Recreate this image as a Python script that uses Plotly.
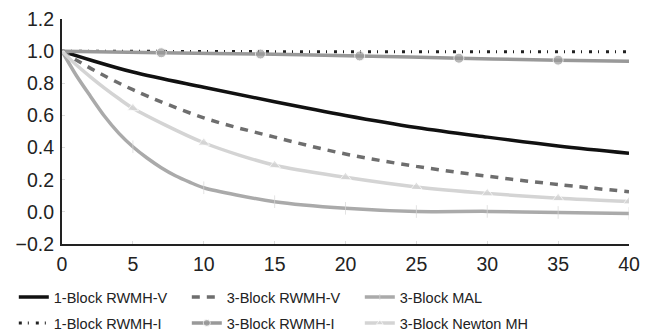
import plotly.graph_objects as go

# ---- data ----
x_v1 = [0, 2, 5, 10, 15, 20, 25, 30, 35, 40]
y_v1 = [1.0, 0.945, 0.87, 0.775, 0.685, 0.60, 0.525, 0.465, 0.41, 0.365]

x_i1 = [0, 10, 20, 30, 40]
y_i1 = [1.0, 0.997, 0.996, 0.996, 0.996]

x_v3 = [0, 1, 2.5, 5, 10, 15, 20, 25, 30, 35, 40]
y_v3 = [1.0, 0.945, 0.87, 0.76, 0.585, 0.465, 0.36, 0.283, 0.222, 0.17, 0.125]

x_i3 = [0, 7, 14, 21, 28, 35, 40]
y_i3 = [1.0, 0.99, 0.982, 0.97, 0.956, 0.944, 0.937]

x_mal = [0, 1, 2, 3, 4, 5, 6, 7, 8, 9, 10, 15, 20, 25, 30, 35, 40]
y_mal = [1.0, 0.85, 0.72, 0.595, 0.49, 0.405, 0.335, 0.275, 0.225, 0.185, 0.15,
         0.063, 0.022, 0.002, 0.003, -0.004, -0.01]

x_nt = [0, 1, 2, 3, 4, 5, 10, 15, 20, 25, 30, 35, 40]
y_nt = [1.0, 0.915, 0.84, 0.77, 0.705, 0.645, 0.43, 0.29, 0.215, 0.155, 0.115, 0.085, 0.065]

names = ["1-Block RWMH-V", "3-Block RWMH-V", "3-Block MAL",
         "1-Block RWMH-I", "3-Block RWMH-I", "3-Block Newton MH"]
x_ticks = [0, 5, 10, 15, 20, 25, 30, 35, 40]
y_ticks = [-0.2, 0.0, 0.2, 0.4, 0.6, 0.8, 1.0, 1.2]

fig = go.Figure()

fig.add_trace(go.Scatter(x=x_v1, y=y_v1, name=names[0], mode="lines", legend="legend",
                         line=dict(color="#111111", width=3.5, shape="spline")))
fig.add_trace(go.Scatter(x=x_v3, y=y_v3, name=names[1], mode="lines", legend="legend",
                         line=dict(color="#6e6e6e", width=3.5, dash="8px,7px", shape="spline")))
mal_sizes = [9 if (x % 5 == 0 and x > 0) else 0 for x in x_mal]
fig.add_trace(go.Scatter(x=x_mal, y=y_mal, name=names[2], mode="lines+markers", legend="legend",
                         line=dict(color="#aaaaaa", width=3.5, shape="spline", smoothing=0.8),
                         marker=dict(symbol="line-ns", size=mal_sizes, color="#d8d8d8",
                                     line=dict(color="#d8d8d8", width=1))))
fig.add_trace(go.Scatter(x=x_i1, y=y_i1, name=names[3], mode="lines", legend="legend2",
                         line=dict(color="#222222", width=3, dash="3px,6px,1px,7px")))
i3_sizes = [0 if x in (0, 40) else 10 for x in x_i3]
fig.add_trace(go.Scatter(x=x_i3, y=y_i3, name=names[4], mode="lines+markers", legend="legend2",
                         line=dict(color="#999999", width=3.5, shape="spline"),
                         marker=dict(symbol="circle", size=i3_sizes, color="#999999")))
nt_sizes = [10 if (x % 5 == 0 and x > 0) else 0 for x in x_nt]
fig.add_trace(go.Scatter(x=x_nt, y=y_nt, name=names[5], mode="lines+markers", legend="legend2",
                         line=dict(color="#d4d4d4", width=3.5, shape="spline", smoothing=0.8),
                         marker=dict(symbol="triangle-up", size=nt_sizes, color="#d4d4d4")))

leg_common = dict(orientation="h", x=-0.085, xanchor="left", yanchor="middle",
                  entrywidth=128, entrywidthmode="pixels", traceorder="normal",
                  font=dict(size=14.5, color="#222222"), bgcolor="rgba(0,0,0,0)")

fig.update_layout(
    width=655, height=333,
    margin=dict(l=62, r=26, t=19, b=89, autoexpand=False),
    paper_bgcolor="white", plot_bgcolor="white",
    font=dict(family="Liberation Sans, Arial, sans-serif", color="#222222"),
    showlegend=True,
    legend=dict(y=-0.2356, **leg_common),
    legend2=dict(y=-0.351, **leg_common),
)
fig.update_xaxes(range=[0, 40], tickvals=x_ticks, ticktext=[str(v) for v in x_ticks],
                 showgrid=False, zeroline=False, showline=True, linecolor="#222222", linewidth=2,
                 ticks="inside", ticklen=3, tickcolor="#dddddd", tickwidth=1,
                 tickfont=dict(size=19.5), ticklabelstandoff=2)
fig.update_yaxes(range=[-0.2, 1.2], tickvals=y_ticks, tickformat=".1f",
                 showgrid=False, zeroline=False, showline=True, linecolor="#222222", linewidth=2,
                 ticks="inside", ticklen=3, tickcolor="#dddddd", tickwidth=1,
                 tickfont=dict(size=19.5), ticklabelstandoff=2)

fig.write_html("out.html")
